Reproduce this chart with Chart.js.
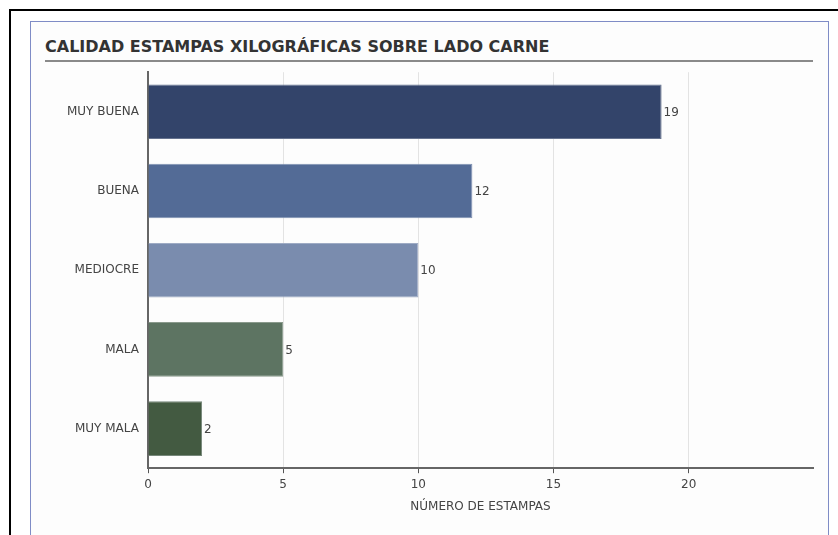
<!DOCTYPE html>
<html>
<head>
<meta charset="utf-8">
<script src="https://cdn.jsdelivr.net/npm/chart.js@4"></script>
<style>
  html, body { margin: 0; padding: 0; background: #fff; }
  body { width: 838px; height: 535px; position: relative; overflow: hidden; font-family: "DejaVu Sans", Verdana, sans-serif; }
  .page { position: absolute; left: 9px; top: 9px; width: 900px; height: 600px; border-left: 2px solid #000; border-top: 2px solid #000; }
  .frame { position: absolute; left: 30px; top: 21px; width: 797px; height: 600px; border: 1px solid #7f8cc6; background: #fdfdfd; }
  .title { position: absolute; left: 45px; top: 38px; width: 768px; height: 22px; line-height: 18px; border-bottom: 2px solid #8a8a8a;
           font-size: 16px; font-weight: bold; color: #333; }
  #wrap { position: absolute; left: 31px; top: 56px; width: 796px; height: 479px; }
</style>
</head>
<body>
<div class="page"></div>
<div class="frame"></div>
<div class="title">CALIDAD ESTAMPAS XILOGRÁFICAS SOBRE LADO CARNE</div>
<div id="wrap"><canvas id="calidadChart"></canvas></div>
<script>
// datos
const categorias = ['MUY BUENA', 'BUENA', 'MEDIOCRE', 'MALA', 'MUY MALA'];
const estampas = [19, 12, 10, 5, 2];
const colores = ['#33446a', '#536b96', '#7a8cae', '#5d7462', '#435a41'];
const bordes = ['#66738f', '#7e90b1', '#9eabc4', '#8a9a8c', '#76877a'];
const ticksX = [0, 5, 10, 15, 20];

// etiqueta de valor al final de cada barra
const valorPlugin = {
    id: 'valores',
    afterDatasetsDraw(chart) {
        const ctx = chart.ctx;
        const meta = chart.getDatasetMeta(0);
        ctx.save();
        ctx.font = '12px "DejaVu Sans", Verdana, sans-serif';
        ctx.fillStyle = '#444';
        ctx.textAlign = 'left';
        ctx.textBaseline = 'middle';
        meta.data.forEach((bar, i) => {
            ctx.fillText(String(estampas[i]), bar.x + 2, bar.y + 1);
        });
        ctx.restore();
    }
};

const ctx = document.getElementById('calidadChart').getContext('2d');
const calidadChart = new Chart(ctx, {
    type: 'bar',
    data: {
        labels: categorias,
        datasets: [{
            data: estampas,
            backgroundColor: colores,
            borderColor: bordes,
            borderWidth: 1,
            borderSkipped: 'left',
            barPercentage: 0.69,
            categoryPercentage: 1.0
        }]
    },
    options: {
        indexAxis: 'y',
        responsive: true,
        maintainAspectRatio: false,
        animation: false,
        layout: { padding: { top: 1, right: 14, bottom: 21, left: 0 } },
        plugins: {
            legend: { display: false },
            tooltip: { enabled: false }
        },
        scales: {
            x: {
                z: 1,
                min: 0,
                max: 24.6,
                afterBuildTicks: axis => {
                    axis.ticks = ticksX.map(v => ({ value: v }));
                },
                grid: {
                    color: '#e3e3e3',
                    tickColor: '#555',
                    tickLength: 5,
                    drawOnChartArea: true
                },
                border: { color: '#666', width: 2 },
                ticks: {
                    color: '#444',
                    padding: 4,
                    font: { family: '"DejaVu Sans", Verdana, sans-serif', size: 12 }
                },
                title: {
                    display: true,
                    text: 'NÚMERO DE ESTAMPAS',
                    color: '#444',
                    padding: { top: 4, bottom: 0 },
                    font: { family: '"DejaVu Sans", Verdana, sans-serif', size: 12 }
                }
            },
            y: {
                afterFit: scale => { scale.width = 117; },
                grid: { display: false, drawTicks: false },
                border: { color: '#666', width: 2 },
                ticks: {
                    color: '#444',
                    padding: 9,
                    font: { family: '"DejaVu Sans", Verdana, sans-serif', size: 12 }
                }
            }
        }
    },
    plugins: [valorPlugin]
});
</script>
</body>
</html>
